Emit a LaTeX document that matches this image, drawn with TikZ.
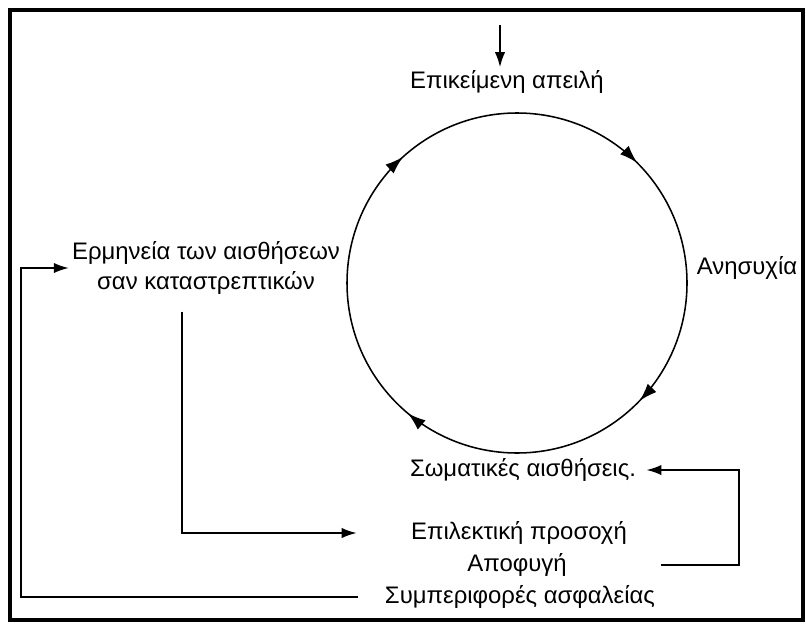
\documentclass[tikz,border=0pt]{standalone}
\usepackage{fontspec}
\setmainfont{Liberation Sans}
\usetikzlibrary{arrows.meta,positioning,decorations.markings}

\begin{document}
\begin{tikzpicture}[
  x=0.025cm, y=-0.025cm,
  font=\fontsize{17}{21.5}\selectfont,
  lbl/.style={inner sep=2pt, align=center},
  arr/.style={-{Latex[length=3.8mm,width=2.6mm]}, line width=1.5pt},
  cyc/.style={line width=1.1pt, postaction={decorate},
    decoration={markings,
      mark=at position 0.133 with {\arrow{Latex[length=4.5mm,width=3mm]}},
      mark=at position 0.375 with {\arrow{Latex[length=4.5mm,width=3mm]}},
      mark=at position 0.622 with {\arrow{Latex[length=4.5mm,width=3mm]}},
      mark=at position 0.861 with {\arrow{Latex[length=4.5mm,width=3mm]}}}}
]
  \useasboundingbox (0,0) rectangle (806,624);
  \draw[line width=2.2pt] (10,10) rectangle (803,620);

  % the cycle
  \coordinate (c) at (517,283);
  \draw[cyc] (c) ++(180:170) arc[start angle=180, end angle=540, radius=170];

  \node[lbl] (threat) at (507,82) {Επικείμενη απειλή};
  \node[lbl] (anx) at (747,268) {Ανησυχία};
  \node[lbl] (sens) at (523,470) {Σωματικές αισθήσεις.};
  \node[lbl] (interp) at (206,268) {Ερμηνεία των αισθήσεων\\σαν καταστρεπτικών};
  \node[lbl] (sel) at (519,533) {Επιλεκτική προσοχή};
  \node[lbl] (avoid) at (517,565) {Αποφυγή};
  \node[lbl] (safe) at (520,597) {Συμπεριφορές ασφαλείας};

  % connectors
  \coordinate (src) at (500,25);
  \draw[arr] (src) -- (src |- threat.north);
  \draw[arr] ([xshift=-0.6cm]safe.west) -| ([xshift=-1.2cm]interp.west) -- (interp.west);
  \draw[arr] ([xshift=-0.6cm,yshift=-0.35cm]interp.south) |- ([xshift=-1.28cm]sel.west);
  \draw[arr] ([xshift=2.28cm]avoid.east) -| ([xshift=2.5cm]sens.east) -- ([xshift=0.18cm]sens.east);
\end{tikzpicture}
\end{document}
